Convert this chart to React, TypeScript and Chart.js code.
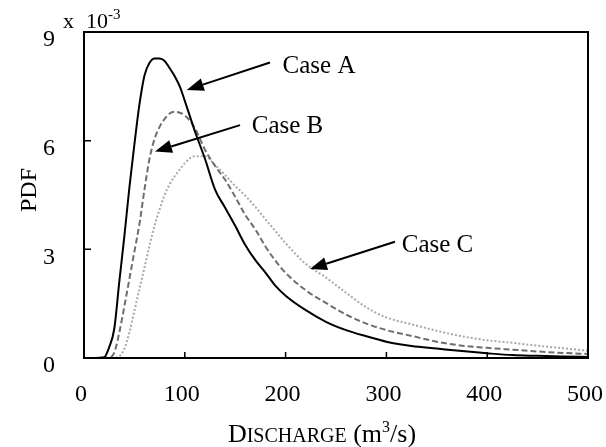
import React, { useEffect, useRef } from "react";
import { Chart, registerables } from "chart.js";

Chart.register(...registerables);

// Discharge (m3/s)
const discharge = [0, 10, 20, 25, 30, 35, 40, 45, 50, 55, 60, 65, 70, 75, 80, 85, 90, 95, 100, 110, 120, 130, 140, 150, 160, 170, 180, 190, 200, 220, 240, 260, 280, 300, 325, 350, 375, 400, 425, 450, 475, 500];
// PDF values (x 10^-3)
const caseA = [0, 0, 0.02, 0.3, 0.8, 2.1, 3.35, 4.7, 5.9, 7.0, 7.8, 8.15, 8.27, 8.27, 8.2, 8.0, 7.78, 7.5, 7.1, 6.26, 5.5, 4.65, 4.15, 3.65, 3.12, 2.7, 2.36, 1.99, 1.72, 1.32, 1.0, 0.77, 0.6, 0.45, 0.33, 0.26, 0.19, 0.13, 0.08, 0.06, 0.04, 0.03];
const caseB = [0, 0, 0, 0.01, 0.15, 0.7, 1.42, 2.18, 2.94, 3.7, 4.65, 5.5, 6.05, 6.38, 6.6, 6.75, 6.8, 6.77, 6.7, 6.35, 5.75, 5.3, 4.92, 4.45, 3.95, 3.55, 3.08, 2.68, 2.35, 1.87, 1.52, 1.2, 0.95, 0.77, 0.61, 0.45, 0.34, 0.28, 0.23, 0.18, 0.14, 0.11];
const caseC = [0, 0, 0, 0, 0, 0.05, 0.25, 0.7, 1.3, 1.9, 2.5, 3.1, 3.66, 4.1, 4.5, 4.8, 5.02, 5.2, 5.38, 5.57, 5.57, 5.33, 5.05, 4.75, 4.48, 4.17, 3.83, 3.5, 3.17, 2.6, 2.22, 1.8, 1.4, 1.12, 0.93, 0.75, 0.6, 0.49, 0.42, 0.34, 0.27, 0.2];

const xTicks = [0, 100, 200, 300, 400, 500];
const yTicks = [0, 3, 6, 9];

// Annotations (data coordinates)
const caseLabels = ["Case A", "Case B", "Case C"];
const labelAt = [[197, 7.86], [166.4, 6.2], [315.2, 2.93]];
const arrowFrom = [[184.5, 8.16], [154.8, 6.43], [308.5, 3.21]];
const arrowTo = [[101.9, 7.4], [70.4, 5.7], [224.2, 2.46]];

const SERIF = "'Liberation Serif', 'Times New Roman', serif";

function drawArrow(ctx: CanvasRenderingContext2D, x1: number, y1: number, x2: number, y2: number) {
  const ang = Math.atan2(y2 - y1, x2 - x1);
  const headLen = 17;
  const headHalf = 6.5;
  const bx = x2 - headLen * Math.cos(ang);
  const by = y2 - headLen * Math.sin(ang);
  ctx.beginPath();
  ctx.moveTo(x1, y1);
  ctx.lineTo(bx, by);
  ctx.lineWidth = 2;
  ctx.strokeStyle = "#000";
  ctx.stroke();
  ctx.beginPath();
  ctx.moveTo(x2, y2);
  ctx.lineTo(bx + headHalf * Math.sin(ang), by - headHalf * Math.cos(ang));
  ctx.lineTo(bx - headHalf * Math.sin(ang), by + headHalf * Math.cos(ang));
  ctx.closePath();
  ctx.fillStyle = "#000";
  ctx.fill();
}

const decorPlugin = {
  id: "decor",
  afterDraw(chart: any) {
    const ctx: CanvasRenderingContext2D = chart.ctx;
    const { left, right, top, bottom } = chart.chartArea;
    const xs = chart.scales.x;
    const ys = chart.scales.y;
    ctx.save();
    // frame
    ctx.strokeStyle = "#000";
    ctx.lineWidth = 2;
    ctx.strokeRect(left, top, right - left, bottom - top);
    // inner ticks
    ctx.lineWidth = 1.5;
    ctx.beginPath();
    xTicks.forEach((v) => {
      if (v <= xs.min || v >= xs.max) return;
      const px = xs.getPixelForValue(v);
      ctx.moveTo(px, bottom);
      ctx.lineTo(px, bottom - 6);
    });
    yTicks.forEach((v) => {
      if (v <= ys.min || v >= ys.max) return;
      const py = ys.getPixelForValue(v);
      ctx.moveTo(left, py);
      ctx.lineTo(left + 7, py);
    });
    ctx.stroke();
    // arrows and labels
    ctx.font = `25px ${SERIF}`;
    ctx.fillStyle = "#000";
    ctx.textBaseline = "alphabetic";
    ctx.textAlign = "left";
    caseLabels.forEach((lab, i) => {
      drawArrow(
        ctx,
        xs.getPixelForValue(arrowFrom[i][0]),
        ys.getPixelForValue(arrowFrom[i][1]),
        xs.getPixelForValue(arrowTo[i][0]),
        ys.getPixelForValue(arrowTo[i][1])
      );
      ctx.fillStyle = "#000";
      ctx.fillText(lab, xs.getPixelForValue(labelAt[i][0]), ys.getPixelForValue(labelAt[i][1]));
    });
    // multiplier "x 10^-3"
    ctx.font = `22px ${SERIF}`;
    ctx.fillText("x", left - 21, top - 4);
    ctx.fillText("10", left + 2, top - 4);
    const w10 = ctx.measureText("10").width;
    ctx.font = `15px ${SERIF}`;
    ctx.fillText("-3", left + 2 + w10, top - 13);
    // y title
    ctx.save();
    ctx.translate(30, (top + bottom) / 2 - 5);
    ctx.rotate(-Math.PI / 2);
    ctx.textAlign = "center";
    ctx.textBaseline = "middle";
    ctx.font = `24px ${SERIF}`;
    ctx.fillText("PDF", 0, 0);
    ctx.restore();
    // x title with small caps
    const parts: [string, number, number][] = [
      ["D", 26, 0],
      ["ISCHARGE", 20, 0],
      [" (m", 26, 0],
      ["3", 16, -10],
      ["/s)", 26, 0],
    ];
    let total = 0;
    parts.forEach(([t, s]) => {
      ctx.font = `${s}px ${SERIF}`;
      total += ctx.measureText(t).width;
    });
    let cx = (left + right) / 2 - 14 - total / 2;
    const baseY = 442;
    ctx.textAlign = "left";
    ctx.textBaseline = "alphabetic";
    parts.forEach(([t, s, dy]) => {
      ctx.font = `${s}px ${SERIF}`;
      ctx.fillText(t, cx, baseY + dy);
      cx += ctx.measureText(t).width;
    });
    ctx.restore();
  },
};

export default function App() {
  const canvasRef = useRef<HTMLCanvasElement | null>(null);

  useEffect(() => {
    if (!canvasRef.current) return;
    const mk = (data: number[]) => discharge.map((x, i) => ({ x, y: data[i] }));
    const chart = new Chart(canvasRef.current, {
      type: "line",
      data: {
        datasets: [
          { label: "Case A", data: mk(caseA), borderColor: "#000000", borderWidth: 2, pointRadius: 0, fill: false, cubicInterpolationMode: "monotone" },
          { label: "Case B", data: mk(caseB), borderColor: "#6e6e6e", borderWidth: 2, borderDash: [6, 3], pointRadius: 0, fill: false, cubicInterpolationMode: "monotone" },
          { label: "Case C", data: mk(caseC), borderColor: "#a8a8a8", borderWidth: 2, borderDash: [2, 2], pointRadius: 0, fill: false, cubicInterpolationMode: "monotone" },
        ],
      },
      options: {
        animation: false,
        responsive: false,
        maintainAspectRatio: false,
        layout: { padding: { top: 32, right: 18, left: 0, bottom: 0 } },
        plugins: { legend: { display: false }, tooltip: { enabled: false }, title: { display: false } },
        scales: {
          x: {
            type: "linear",
            min: 0,
            max: 500,
            afterBuildTicks: (scale: any) => {
              scale.ticks = xTicks.map((v) => ({ value: v }));
            },
            afterFit: (scale: any) => {
              scale.height = 89;
              scale.paddingLeft = 0;
              scale.paddingRight = 0;
            },
            grid: { display: false, drawTicks: false },
            border: { display: false },
            ticks: { color: "#000", font: { family: SERIF, size: 24 }, padding: 22, maxRotation: 0, autoSkip: false, labelOffset: -3 },
          },
          y: {
            type: "linear",
            min: 0,
            max: 9,
            afterBuildTicks: (scale: any) => {
              scale.ticks = yTicks.map((v) => ({ value: v }));
            },
            afterFit: (scale: any) => {
              scale.width = 84;
              scale.paddingTop = 0;
              scale.paddingBottom = 0;
            },
            grid: { display: false, drawTicks: false },
            border: { display: false },
            ticks: { color: "#000", font: { family: SERIF, size: 24 }, padding: 29, labelOffset: 8 },
          },
        },
      },
      plugins: [decorPlugin],
    } as any);
    return () => chart.destroy();
  }, []);

  return (
    <div style={{ position: "fixed", left: 0, top: 0, width: 606, height: 447, background: "#fff" }}>
      <canvas ref={canvasRef} width={606} height={447} style={{ width: 606, height: 447, display: "block" }} />
    </div>
  );
}
